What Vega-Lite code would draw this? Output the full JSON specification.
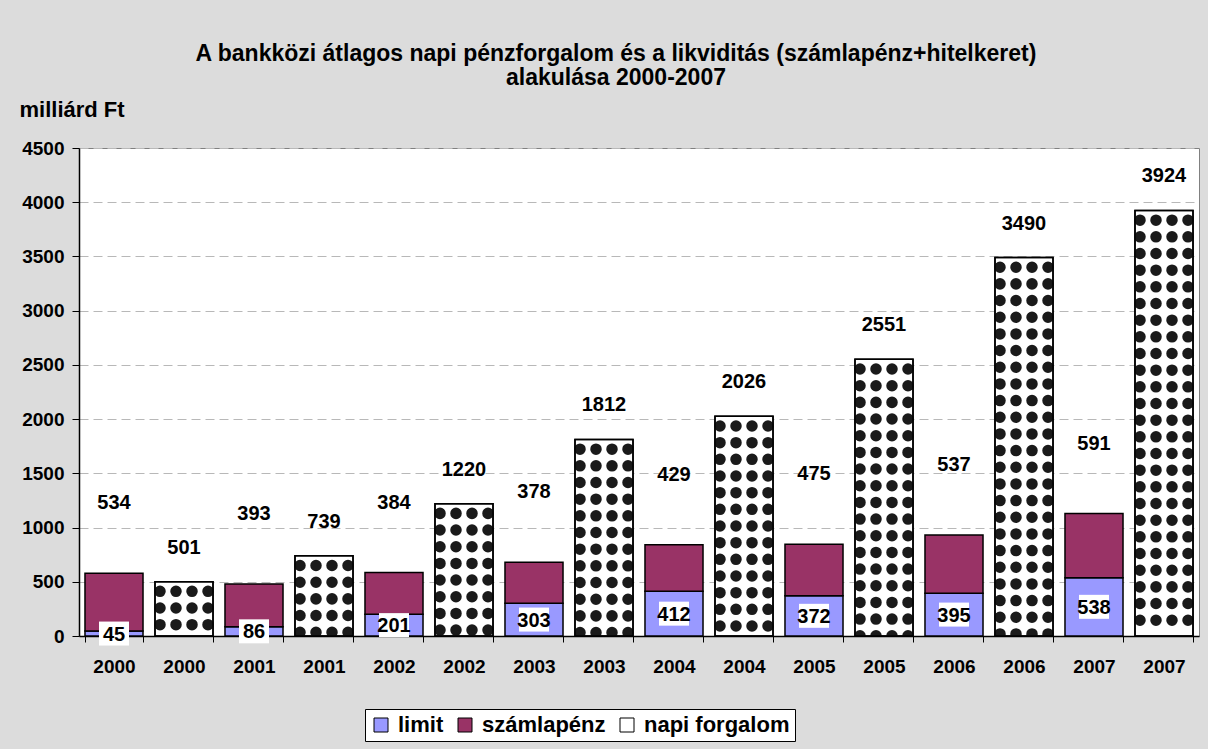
{
  "$schema": "https://vega.github.io/schema/vega-lite/v6.json",
  "autosize": {"type": "none"},
  "width": 1120,
  "height": 488,
  "padding": {"left": 79, "top": 148, "right": 9, "bottom": 113},
  "background": "#dcdcdc",
  "title": {
    "text": ["A bankközi átlagos napi pénzforgalom és a likviditás (számlapénz+hitelkeret)", "alakulása 2000-2007"],
    "anchor": "middle",
    "frame": "group",
    "fontSize": 23,
    "fontWeight": "bold",
    "font": "Liberation Sans",
    "color": "black",
    "dx": -23,
    "offset": 8,
    "lineHeight": 24
  },
  "data": {
    "values": [
      {"cat": "2000a", "series": "limit", "value": 45},
      {"cat": "2000a", "series": "számlapénz", "value": 534},
      {"cat": "2000b", "series": "napi forgalom", "value": 501},
      {"cat": "2001a", "series": "limit", "value": 86},
      {"cat": "2001a", "series": "számlapénz", "value": 393},
      {"cat": "2001b", "series": "napi forgalom", "value": 739},
      {"cat": "2002a", "series": "limit", "value": 201},
      {"cat": "2002a", "series": "számlapénz", "value": 384},
      {"cat": "2002b", "series": "napi forgalom", "value": 1220},
      {"cat": "2003a", "series": "limit", "value": 303},
      {"cat": "2003a", "series": "számlapénz", "value": 378},
      {"cat": "2003b", "series": "napi forgalom", "value": 1812},
      {"cat": "2004a", "series": "limit", "value": 412},
      {"cat": "2004a", "series": "számlapénz", "value": 429},
      {"cat": "2004b", "series": "napi forgalom", "value": 2026},
      {"cat": "2005a", "series": "limit", "value": 372},
      {"cat": "2005a", "series": "számlapénz", "value": 475},
      {"cat": "2005b", "series": "napi forgalom", "value": 2551},
      {"cat": "2006a", "series": "limit", "value": 395},
      {"cat": "2006a", "series": "számlapénz", "value": 537},
      {"cat": "2006b", "series": "napi forgalom", "value": 3490},
      {"cat": "2007a", "series": "limit", "value": 538},
      {"cat": "2007a", "series": "számlapénz", "value": 591},
      {"cat": "2007b", "series": "napi forgalom", "value": 3924}
    ]
  },
  "encoding": {
    "x": {
      "field": "cat",
      "type": "nominal",
      "sort": null,
      "scale": {"paddingInner": 0.171, "paddingOuter": 0.0855},
      "axis": {
        "title": null,
        "labelExpr": "substring(datum.label, 0, 4)",
        "labelAngle": 0,
        "labelFontSize": 19,
        "labelFontWeight": "bold",
        "labelColor": "black",
        "labelPadding": 15,
        "tickBand": "extent",
        "tickSize": 6,
        "tickColor": "black",
        "domainColor": "black",
        "domainWidth": 1.5,
        "grid": false
      }
    }
  },
  "layer": [
    {
      "mark": {"type": "bar", "stroke": "black", "strokeWidth": 1.5},
      "encoding": {
        "y": {
          "field": "value",
          "type": "quantitative",
          "stack": "zero",
          "scale": {"domain": [0, 4500], "nice": false},
          "axis": {
            "title": "milliárd Ft",
            "titleAngle": 0,
            "titleX": -60,
            "titleY": -39,
            "titleAlign": "left",
            "titleBaseline": "middle",
            "titleFontSize": 22,
            "titleFontWeight": "bold",
            "titleColor": "black",
            "values": [0, 500, 1000, 1500, 2000, 2500, 3000, 3500, 4000, 4500],
            "format": "d",
            "labelFontSize": 19,
            "labelFontWeight": "bold",
            "labelColor": "black",
            "labelPadding": 8,
            "tickSize": 7,
            "tickColor": "black",
            "domainColor": "black",
            "domainWidth": 1.5,
            "grid": true,
            "gridColor": "#b8b8b8",
            "gridDash": [9, 5]
          }
        },
        "order": {"field": "series", "sort": "ascending"},
        "color": {
          "field": "series",
          "type": "nominal",
          "scale": {
            "domain": ["limit", "számlapénz", "napi forgalom"],
            "range": ["#9999ff", "#993366", "#ffffff"]
          },
          "legend": {"title": null}
        }
      }
    },
    {
      "transform": [{"filter": "datum.series == 'napi forgalom'"}],
      "mark": {"type": "rule", "clip": true, "color": "#1a1a1a", "strokeWidth": 11.5, "strokeCap": "round", "strokeDash": [0.01, 16.66], "strokeDashOffset": 7, "xOffset": -24},
      "encoding": {"y": {"field": "value", "type": "quantitative", "scale": {"domain": [0, 4500], "nice": false}, "axis": null}, "y2": {"datum": 0}}
    },
    {
      "transform": [{"filter": "datum.series == 'napi forgalom'"}],
      "mark": {"type": "rule", "clip": true, "color": "#1a1a1a", "strokeWidth": 11.5, "strokeCap": "round", "strokeDash": [0.01, 16.66], "strokeDashOffset": 7, "xOffset": -8},
      "encoding": {"y": {"field": "value", "type": "quantitative", "scale": {"domain": [0, 4500], "nice": false}, "axis": null}, "y2": {"datum": 0}}
    },
    {
      "transform": [{"filter": "datum.series == 'napi forgalom'"}],
      "mark": {"type": "rule", "clip": true, "color": "#1a1a1a", "strokeWidth": 11.5, "strokeCap": "round", "strokeDash": [0.01, 16.66], "strokeDashOffset": 7, "xOffset": 8},
      "encoding": {"y": {"field": "value", "type": "quantitative", "scale": {"domain": [0, 4500], "nice": false}, "axis": null}, "y2": {"datum": 0}}
    },
    {
      "transform": [{"filter": "datum.series == 'napi forgalom'"}],
      "mark": {"type": "rule", "clip": true, "color": "#1a1a1a", "strokeWidth": 11.5, "strokeCap": "round", "strokeDash": [0.01, 16.66], "strokeDashOffset": 7, "xOffset": 24},
      "encoding": {"y": {"field": "value", "type": "quantitative", "scale": {"domain": [0, 4500], "nice": false}, "axis": null}, "y2": {"datum": 0}}
    },
    {
      "transform": [{"filter": "datum.series == 'napi forgalom'"}],
      "mark": {"type": "bar", "fillOpacity": 0, "fill": "white", "stroke": "black", "strokeWidth": 1.5},
      "encoding": {"y": {"field": "value", "type": "quantitative", "scale": {"domain": [0, 4500], "nice": false}, "axis": null}}
    },
    {
      "transform": [
        {"joinaggregate": [{"op": "sum", "field": "value", "as": "total"}], "groupby": ["cat"]},
        {"filter": "datum.series == 'számlapénz'"}
      ],
      "mark": {"type": "text", "fontSize": 20, "fontWeight": "bold", "color": "black", "baseline": "middle", "dy": -70},
      "encoding": {
        "y": {"field": "total", "type": "quantitative", "scale": {"domain": [0, 4500], "nice": false}, "axis": null},
        "text": {"field": "value", "type": "quantitative"}
      }
    },
    {
      "transform": [{"filter": "datum.series == 'napi forgalom'"}],
      "mark": {"type": "text", "fontSize": 20, "fontWeight": "bold", "color": "black", "baseline": "middle", "dy": -34},
      "encoding": {
        "y": {"field": "value", "type": "quantitative", "scale": {"domain": [0, 4500], "nice": false}, "axis": null},
        "text": {"field": "value", "type": "quantitative"}
      }
    },
    {
      "transform": [{"filter": "datum.series == 'limit'"}],
      "mark": {"type": "point", "shape": "M-1.25,-1L1.25,-1L1.25,1L-1.25,1Z", "size": 576, "filled": true, "fill": "white", "opacity": 1, "strokeWidth": 0},
      "encoding": {
        "y": {"field": "value", "type": "quantitative", "scale": {"domain": [0, 9000], "nice": false}, "axis": null}
      }
    },
    {
      "transform": [{"filter": "datum.series == 'limit'"}],
      "mark": {"type": "text", "fontSize": 20, "fontWeight": "bold", "color": "black", "baseline": "middle", "dy": 1},
      "encoding": {
        "y": {"field": "value", "type": "quantitative", "scale": {"domain": [0, 9000], "nice": false}, "axis": null},
        "text": {"field": "value", "type": "quantitative"}
      }
    }
  ],
  "resolve": {"scale": {"y": "independent"}},
  "config": {
    "font": "Liberation Sans",
    "view": {"fill": "white", "stroke": "#808080", "strokeWidth": 1},
    "legend": {
      "orient": "none",
      "legendX": 286,
      "legendY": 561,
      "direction": "horizontal",
      "symbolType": "square",
      "symbolSize": 196,
      "symbolStrokeColor": "black",
      "symbolStrokeWidth": 1,
      "symbolOpacity": 1,
      "labelFontSize": 22,
      "labelFontWeight": "bold",
      "labelColor": "black",
      "labelOffset": 6,
      "columnPadding": 10,
      "strokeColor": "black",
      "fillColor": "white",
      "padding": 5
    }
  }
}
